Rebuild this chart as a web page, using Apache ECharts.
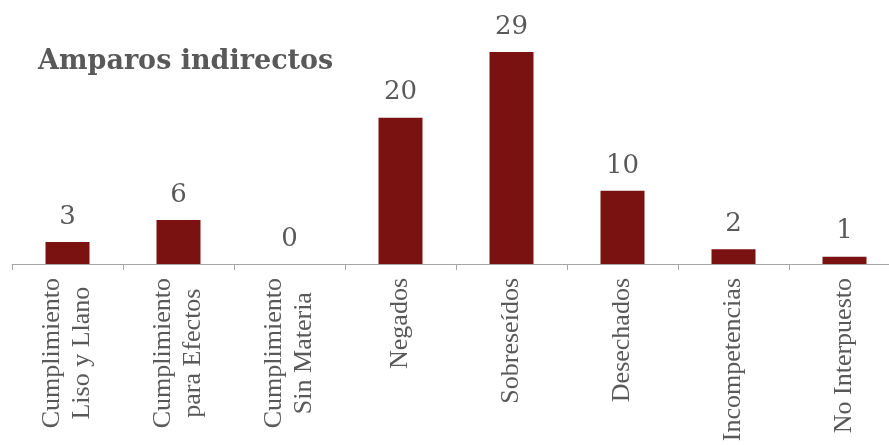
<!DOCTYPE html>
<html><head><meta charset="utf-8">
<script src="https://cdn.jsdelivr.net/npm/echarts@6/dist/echarts.min.js"></script>
<style>html,body{margin:0;padding:0;background:#fff}#c{width:889px;height:447px}</style>
</head><body><div id="c"></div>
<script>
const titleText = 'Amparos indirectos';
const categories = ['Cumplimiento\nLiso y Llano','Cumplimiento\npara Efectos','Cumplimiento\nSin Materia','Negados','Sobreseídos','Desechados','Incompetencias','No Interpuesto'];
const values = [3, 6, 0, 20, 29, 10, 2, 1];

const chart = echarts.init(document.getElementById('c'));
chart.setOption({
  animation: false,
  title: {
    text: titleText, left: 33, top: 43,
    textStyle: {fontFamily: 'DejaVu Serif', fontWeight: 900, fontSize: 27, color: '#595959'}
  },
  grid: {left: 12, right: -11, top: 8, bottom: 183, containLabel: false, outerBoundsMode: 'none'},
  xAxis: {
    type: 'category', data: categories,
    axisLine: {lineStyle: {color: '#A6A6A6', width: 1}},
    axisTick: {show: true, interval: 0, alignWithLabel: false, length: 6, lineStyle: {color: '#A6A6A6', width: 1}},
    axisLabel: {
      rotate: 90, margin: 14, interval: 0,
      fontFamily: 'Liberation Serif', fontSize: 26, lineHeight: 30, color: '#595959',
      formatter: v => v.split('\n').map(s => '{c|' + s + '}').join('\n'),
      rich: {c: {align: 'center', fontFamily: 'Liberation Serif', fontSize: 26, lineHeight: 30, color: '#595959'}}
    }
  },
  yAxis: {type: 'value', min: 0, max: 35, show: false, splitLine: {show: false}},
  series: [{
    type: 'bar', data: values, barWidth: 44,
    itemStyle: {color: '#7A1212'},
    label: {show: true, position: 'top', distance: 12, fontFamily: 'DejaVu Serif', fontSize: 26, color: '#595959'}
  }]
});
</script></body></html>
